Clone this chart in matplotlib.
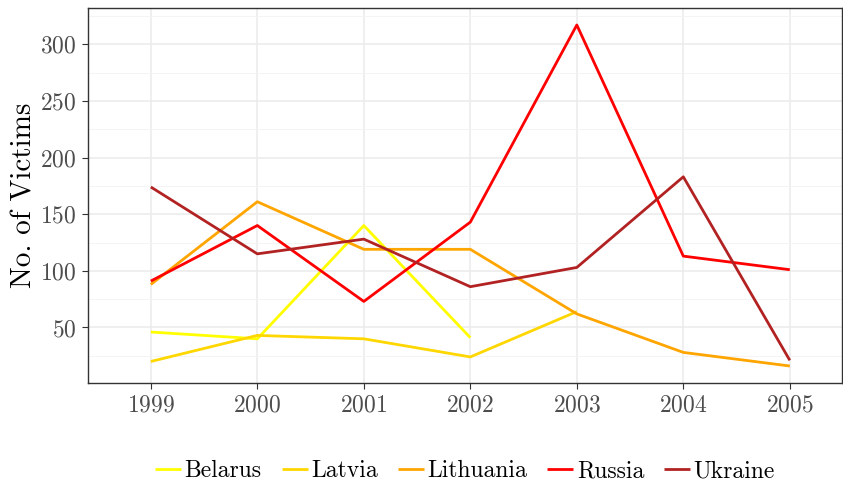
import numpy as np
import matplotlib
matplotlib.use("Agg")
import matplotlib.pyplot as plt
from matplotlib.ticker import MultipleLocator

plt.rcParams['font.family'] = 'serif'
plt.rcParams['font.serif'] = ['cmr10', 'DejaVu Serif']
plt.rcParams['mathtext.fontset'] = 'cm'
plt.rcParams['axes.formatter.use_mathtext'] = True

years = [1999, 2000, 2001, 2002, 2003, 2004, 2005]
countries = ["Belarus", "Latvia", "Lithuania", "Russia", "Ukraine"]
colors = ["#FFFF00", "#FFD700", "#FFA500", "#FF0000", "#B22222"]

belarus = [46, 40, 140, 41]
latvia = [20, 43, 40, 24, 64]
lithuania = [88, 161, 119, 119, 62, 28, 16]
russia = [91, 140, 73, 143, 317, 113, 101]
ukraine = [174, 115, 128, 86, 103, 183, 21]
series = [belarus, latvia, lithuania, russia, ukraine]

fig = plt.figure(figsize=(8.43, 4.84), dpi=100)
ax = fig.add_axes([88 / 843, 1 - 383 / 484, (842 - 88) / 843, (383 - 8) / 484])

for name, vals, col in zip(countries, series, colors):
    ax.plot(years[:len(vals)], vals, color=col, linewidth=2, label=name,
            solid_capstyle='butt')

ax.set_xlim(1998.41, 2005.49)
ax.set_ylim(1, 332)
ax.set_xticks(years)
ax.set_yticks([50, 100, 150, 200, 250, 300])
ax.yaxis.set_minor_locator(MultipleLocator(25))
ax.grid(True, which='major', color='#EBEBEB', linewidth=1.1)
ax.grid(True, which='minor', axis='y', color='#F3F3F3', linewidth=0.6)
ax.set_axisbelow(True)
for s in ax.spines.values():
    s.set_color('#333333')
    s.set_linewidth(1)
ax.tick_params(which='major', length=4, color='#333333', labelsize=17,
               labelcolor='#4D4D4D', pad=4)
ax.tick_params(which='minor', length=0)
ax.set_ylabel("No. of Victims", fontsize=21, labelpad=2)

fig.legend(loc='center', ncol=5, frameon=False, fontsize=17,
           bbox_to_anchor=(465 / 843, 1 - 471 / 484), handlelength=1.1,
           handletextpad=0.15, columnspacing=0.85, borderpad=0)

fig.savefig("out.png", dpi=100)
